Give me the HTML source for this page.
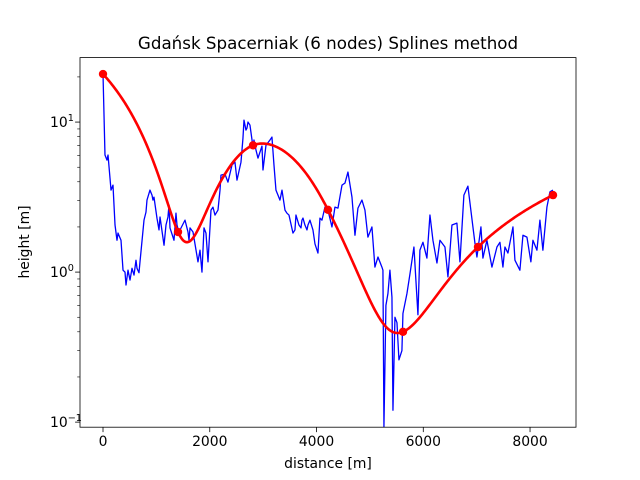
<!DOCTYPE html>
<html><head><meta charset="utf-8"><style>
body{margin:0;background:#fff;}
svg{display:block;font-family:"DejaVu Sans","Liberation Sans",sans-serif;}
</style></head><body>
<svg id="chart" width="640" height="480" xmlns="http://www.w3.org/2000/svg">
<rect width="640" height="480" fill="#fff"/>
<text x="328" y="49" text-anchor="middle" font-size="16.7">Gdańsk Spacerniak (6 nodes) Splines method</text>
<g id="plot"></g>
<rect x="80" y="57.6" width="496" height="369.6" fill="none" stroke="#000" stroke-width="0.8"/>
<g id="axes"></g>
<text x="328" y="468" text-anchor="middle" font-size="13.9">distance [m]</text>
<text x="0" y="0" transform="translate(29,242) rotate(-90)" text-anchor="middle" font-size="13.9">height [m]</text>
</svg>
<script>
const profileDist=[0,37,75,94,131,150,187,225,262,281,337,375,412,431,468,506,543,581,618,637,674,693,768,805,824,880,918,936,955,1011,1049,1068,1143,1180,1217,1236,1255,1330,1367,1386,1423,1536,1573,1592,1611,1630,1686,1779,1817,1854,1892,1929,1967,2023,2060,2098,2154,2192,2210,2285,2341,2416,2472,2510,2585,2622,2641,2678,2697,2716,2753,2810,2828,2866,2903,2941,2978,2997,3053,3128,3165,3203,3240,3278,3315,3353,3409,3446,3484,3559,3596,3615,3671,3709,3727,3746,3783,3821,3840,3877,3933,3971,4027,4064,4102,4158,4214,4289,4345,4402,4477,4533,4589,4664,4720,4776,4851,4907,4963,5038,5094,5151,5225,5244,5263,5300,5338,5375,5413,5432,5469,5507,5544,5600,5619,5694,5750,5825,5900,5937,5994,6068,6125,6181,6256,6312,6406,6462,6537,6630,6687,6761,6836,6930,6968,7005,7080,7117,7192,7286,7380,7436,7492,7530,7586,7680,7717,7810,7867,7942,8016,8054,8129,8185,8241,8316,8372,8429];
const profileHeight=[20.9,6.03,5.58,6.03,4.23,3.52,3.80,2.06,1.63,1.82,1.63,1.03,1.0,0.82,1.03,0.885,1.06,0.955,1.20,1.06,0.99,1.17,2.22,2.51,3.02,3.52,3.26,3.02,3.16,2.29,1.91,2.33,1.51,2.06,2.33,2.80,1.97,1.63,2.47,2.06,1.85,2.22,1.97,1.85,1.63,1.97,1.85,1.17,1.40,1.0,1.97,1.82,1.17,2.59,2.71,2.40,2.59,3.52,4.43,4.50,3.98,5.17,5.41,4.10,5.41,7.82,10.3,8.84,9.12,10.0,9.55,6.81,7.59,6.51,5.75,6.31,6.92,4.79,7.0,7.59,7.94,5.17,3.52,3.26,3.02,3.52,2.59,2.47,2.40,1.82,1.91,2.40,2.06,1.97,2.22,2.29,2.06,1.91,2.06,2.22,1.91,1.54,1.34,2.29,2.22,2.71,2.59,2.0,2.71,2.67,3.80,3.92,4.64,3.16,1.76,2.67,3.02,2.59,1.71,2.0,1.08,1.26,1.08,1.03,0.093,0.6,0.72,1.03,0.68,0.12,0.50,0.46,0.26,0.30,0.53,0.72,0.97,1.47,0.52,1.40,1.58,1.24,2.40,1.63,1.15,1.63,1.47,0.93,2.06,2.12,1.17,3.26,3.74,2.0,1.56,1.26,2.0,1.24,1.63,1.08,1.47,1.58,1.08,1.47,1.34,2.0,1.20,1.03,1.76,1.71,1.17,1.63,1.40,2.22,1.40,2.71,3.42,3.52];
const nodeDist=[0,1405,2810,4215,5620,7025,8430];
const nodeHeight=[20.9,1.85,7.0,2.6,0.40,1.47,3.26];
const xTicks=[0,2000,4000,6000,8000];
const xTickLabels=["0","2000","4000","6000","8000"];
const yDecades=[-1,0,1];

const X0=80,X1=576,Y0=427.2,Y1=57.6;
const xMin=-431,xMax=8861,lyMin=Math.log10(0.0925),lyMax=Math.log10(26.9);
const xs=d=>X0+(d-xMin)/(xMax-xMin)*(X1-X0);
const ys=h=>Y0-(Math.log10(Math.max(h,1e-3))-lyMin)/(lyMax-lyMin)*(Y0-Y1);
const NS="http://www.w3.org/2000/svg";
function mk(tag,attrs,parent){const e=document.createElementNS(NS,tag);for(const k in attrs)e.setAttribute(k,attrs[k]);parent.appendChild(e);return e;}
const plot=document.getElementById('plot'),axes=document.getElementById('axes');
const clip=mk('clipPath',{id:'cp'},plot);mk('rect',{x:X0,y:Y1,width:X1-X0,height:Y0-Y1},clip);
const g=mk('g',{'clip-path':'url(#cp)'},plot);

let d='';profileDist.forEach((v,i)=>{d+=(i?'L':'M')+xs(v).toFixed(2)+','+ys(profileHeight[i]).toFixed(2);});
const pl=mk('path',{d:d,fill:'none',stroke:'#0000ff','stroke-width':1.3,'stroke-linejoin':'round'},g);



// natural cubic spline (linear space)
const n=nodeDist.length,yl=nodeHeight.slice();
const hh=[];for(let i=0;i<n-1;i++)hh.push(nodeDist[i+1]-nodeDist[i]);
const a=new Array(n).fill(0),b=new Array(n).fill(0),c=new Array(n).fill(0),r=new Array(n).fill(0);
b[0]=1;b[n-1]=1;
for(let i=1;i<n-1;i++){a[i]=hh[i-1];b[i]=2*(hh[i-1]+hh[i]);c[i]=hh[i];r[i]=6*((yl[i+1]-yl[i])/hh[i]-(yl[i]-yl[i-1])/hh[i-1]);}
for(let i=1;i<n;i++){const m=a[i]/b[i-1];b[i]-=m*c[i-1];r[i]-=m*r[i-1];}
const M=new Array(n).fill(0);M[n-1]=r[n-1]/b[n-1];
for(let i=n-2;i>=0;i--)M[i]=(r[i]-c[i]*M[i+1])/b[i];
function spl(x){let i=0;while(i<n-2&&x>nodeDist[i+1])i++;const h=hh[i],A=(nodeDist[i+1]-x)/h,B=(x-nodeDist[i])/h;
return A*yl[i]+B*yl[i+1]+((A*A*A-A)*M[i]+(B*B*B-B)*M[i+1])*h*h/6;}
let sd='';const N=400;
for(let k=0;k<=N;k++){const x=nodeDist[0]+(nodeDist[n-1]-nodeDist[0])*k/N;sd+=(k?'L':'M')+xs(x).toFixed(2)+','+ys(spl(x)).toFixed(2);}
const sp=mk('path',{d:sd,fill:'none',stroke:'#ff0000','stroke-width':2.6},g);


nodeDist.forEach((v,i)=>{const cdot=mk('circle',{cx:xs(v),cy:ys(nodeHeight[i]),r:4.2,fill:'#ff0000'},plot);

});

xTicks.forEach((t,i)=>{const x=xs(t);
mk('line',{x1:x,x2:x,y1:Y0,y2:Y0+4.9,stroke:'#000','stroke-width':0.8},axes);
const tl=mk('text',{x:x,y:Y0+19,'text-anchor':'middle','font-size':13.9},axes);tl.textContent=xTickLabels[i];

});
yDecades.forEach(p=>{const y=ys(Math.pow(10,p));
if(y<=Y0+0.5&&y>=Y1-0.5){mk('line',{x1:X0-4.9,x2:X0,y1:y,y2:y,stroke:'#000','stroke-width':0.8},axes);
const tl=mk('text',{x:X0-30,y:y+5,'font-size':13.9},axes);tl.textContent='10';
const sup=mk('tspan',{dy:-6,'font-size':9.7},tl);sup.textContent=String(p).replace('-','−');

}
for(let m=2;m<=9;m++){const yy=ys(m*Math.pow(10,p));if(yy<Y0&&yy>Y1)mk('line',{x1:X0-2.8,x2:X0,y1:yy,y2:yy,stroke:'#000','stroke-width':0.6},axes);}
});
</script>
</body></html>
